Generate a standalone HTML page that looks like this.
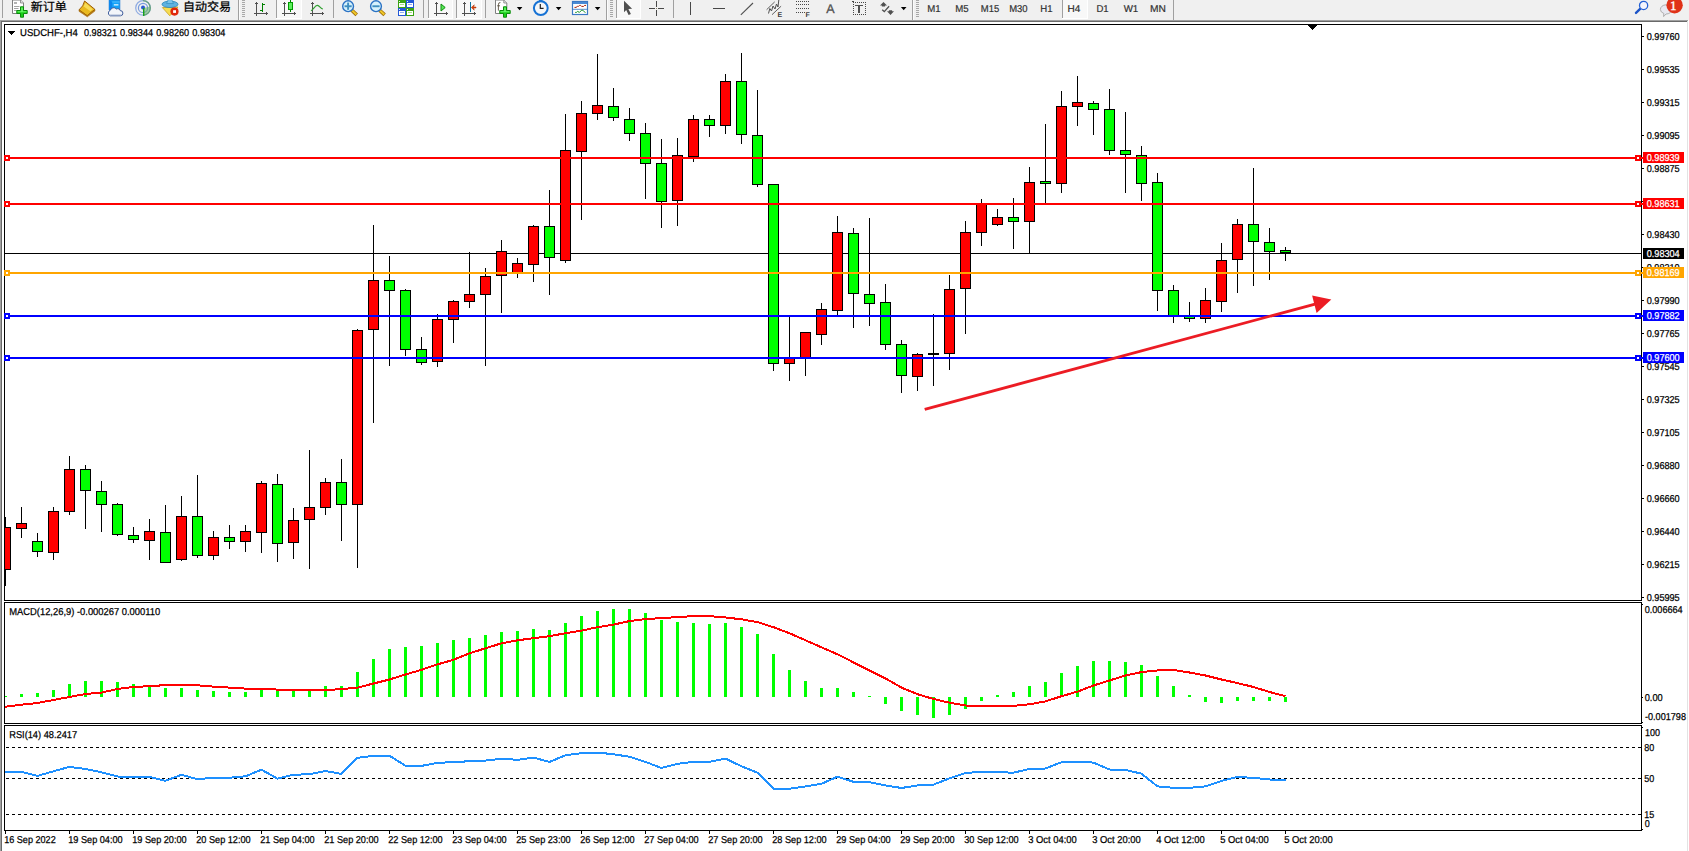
<!DOCTYPE html>
<html lang="zh"><head><meta charset="utf-8"><title>USDCHF-,H4</title>
<style>html,body{margin:0;padding:0;background:#fff;width:1689px;height:851px;overflow:hidden}</style></head>
<body>
<svg width="1689" height="851" viewBox="0 0 1689 851" font-family="'Liberation Sans',sans-serif" font-size="10.0" text-rendering="geometricPrecision" shape-rendering="crispEdges" style="position:absolute;left:0;top:0;display:block">
<rect x="0" y="0" width="1689" height="20" fill="#f0f0f0"/>
<rect x="0" y="20" width="1689" height="831" fill="#ffffff"/>
<rect x="0" y="20" width="1688" height="1" fill="#a0a0a0"/>
<rect x="0" y="20" width="1" height="831" fill="#a0a0a0"/>
<rect x="1" y="21" width="1686" height="1" fill="#696969"/>
<rect x="1" y="21" width="1" height="830" fill="#696969"/>
<rect x="1687" y="21" width="1" height="830" fill="#e3e3e3"/>
<rect x="1688" y="20" width="1" height="831" fill="#ffffff"/>
<g id="toolbar">
<rect x="2" y="0" width="1" height="18" fill="#a0a0a0"/>
<g shape-rendering="geometricPrecision">
<path d="M12.5,0 H20.5 L23.5,3 V13.5 H12.5 Z" fill="#fff" stroke="#808080" stroke-width="1"/>
<path d="M20.5,0 V3 H23.5" fill="#e0e0e0" stroke="#808080" stroke-width="0.8"/>
<rect x="14" y="2.4" width="3" height="1.2" fill="#808080"/>
<rect x="14" y="6" width="5.5" height="0.9" fill="#9a9a9a"/>
<rect x="14" y="8.1" width="4.5" height="0.9" fill="#9a9a9a"/>
<rect x="14" y="10.1" width="3" height="0.9" fill="#9a9a9a"/>
<path d="M20.5,6.8 h3 v3.7 h3.7 v3 h-3.7 v3.7 h-3 v-3.7 h-3.7 v-3 h3.7 Z" fill="#18d018" stroke="#0a8a0a" stroke-width="1"/>
<path d="M21.2,7.5 h1.6 v3.7 h3.7 v1 h-9 v-1 h3.7 Z" fill="#7dff7d" opacity="0.8"/>
</g>
<text x="30.7" y="11.3" font-size="12" font-family="'Liberation Sans','Noto Sans CJK SC',sans-serif" fill="#000" stroke="#000" stroke-width="0.25">新订单</text>
<g shape-rendering="geometricPrecision">
<path d="M84.6,1 Q83.6,6.2 79,9.9 L87.2,15.7 L94.9,9.4 Z" fill="#e9b91f" stroke="#9a5c04" stroke-width="1" stroke-linejoin="round"/>
<path d="M85.4,2.8 L92.8,9.2 L90.4,11.2 L83.4,6.2 Q84.8,4.6 85.4,2.8 Z" fill="#f9e060" opacity="0.85"/>
<path d="M94.9,9.4 L94.9,11 L87.3,16.8 L79,11.3 L79,9.9 L87.2,15.7 Z" fill="#c48a10" stroke="#9a5c04" stroke-width="0.6"/>
<path d="M109.2,0 H119.8 V10 H109.2 Z" fill="#14a2f8" stroke="#1878d8" stroke-width="0.8"/>
<path d="M109.2,0 L112.2,2 V10 H109.2 Z" fill="#0b86ee"/>
<path d="M112.2,2 H119.8" stroke="#7fd0ff" stroke-width="0.6"/>
<rect x="113.8" y="4.2" width="4.6" height="1.3" fill="#e0f4ff"/>
<path d="M110.2,15.8 a3,3 0 0 1 0.2,-5.6 a3.4,3.4 0 0 1 6,-1.2 a2.7,2.7 0 0 1 3.8,1.6 a2.6,2.6 0 0 1 0.2,5.2 Z" fill="#f2f5fa" stroke="#3f5c9c" stroke-width="1"/>
<path d="M109,14.4 H121.4 V15.3 H109 Z" fill="#b4c2da"/>
<circle cx="143" cy="7.9" r="7.3" fill="none" stroke="#6f94dc" stroke-width="1.2" opacity="0.75"/>
<circle cx="143" cy="7.9" r="4.6" fill="none" stroke="#5a86d8" stroke-width="1.2" opacity="0.8"/>
<path d="M143,7.9 L143,15.6 A7.7,7.7 0 0 0 150.6,6.6 Z" fill="#5fae5f" opacity="0.55"/>
<path d="M143,0.6 A7.3,7.3 0 0 1 143,15.2" fill="none" stroke="#5c9c6c" stroke-width="1.2" opacity="0.8"/>
<circle cx="143" cy="7.6" r="2" fill="#2a58d0"/>
<rect x="143" y="8" width="1.4" height="8" fill="#18a018"/>
<path d="M162.4,7.6 L178,7 L172,13.5 L169.8,15.8 Z" fill="#f6dc50" stroke="#c8a020" stroke-width="0.8"/>
<ellipse cx="170" cy="4.3" rx="8" ry="3.2" fill="#5fb2e0" stroke="#2a86b8" stroke-width="0.8"/>
<path d="M166.6,3.5 Q167.5,0 169.2,-1 H170.8 Q172.5,0 173.4,3.5 Z" fill="#7cc4ea" stroke="#2a86b8" stroke-width="0.6"/>
<circle cx="174.5" cy="11.6" r="4.1" fill="#e0280c"/>
<rect x="173.1" y="10.2" width="2.9" height="2.7" fill="#ffffff"/>
</g>
<text x="183" y="11.3" font-size="12" font-family="'Liberation Sans','Noto Sans CJK SC',sans-serif" fill="#000" stroke="#000" stroke-width="0.25">自动交易</text>
<rect x="238" y="0" width="1" height="20" fill="#a0a0a0"/>
<rect x="239" y="0" width="1" height="20" fill="#fbfbfb"/>
<rect x="242" y="0" width="3" height="1" fill="#a8a8a8"/>
<rect x="242" y="2" width="3" height="1" fill="#a8a8a8"/>
<rect x="242" y="4" width="3" height="1" fill="#a8a8a8"/>
<rect x="242" y="6" width="3" height="1" fill="#a8a8a8"/>
<rect x="242" y="8" width="3" height="1" fill="#a8a8a8"/>
<rect x="242" y="10" width="3" height="1" fill="#a8a8a8"/>
<rect x="242" y="12" width="3" height="1" fill="#a8a8a8"/>
<rect x="242" y="14" width="3" height="1" fill="#a8a8a8"/>
<rect x="242" y="16" width="3" height="1" fill="#a8a8a8"/>
<rect x="256" y="2" width="1" height="14" fill="#505050"/>
<rect x="255" y="3" width="3" height="1" fill="#505050"/>
<rect x="254" y="13" width="14" height="1" fill="#505050"/>
<rect x="266" y="12" width="1" height="3" fill="#505050"/>
<rect x="262" y="3" width="1" height="9" fill="#008000"/>
<rect x="263" y="4" width="2" height="1" fill="#008000"/>
<rect x="260" y="10" width="2" height="1" fill="#008000"/>
<rect x="276" y="0" width="1" height="18" fill="#a0a0a0"/>
<rect x="277" y="0" width="25" height="18" fill="#f8f8f8"/>
<rect x="301" y="0" width="1" height="18" fill="#ffffff"/>
<rect x="276" y="18" width="26" height="1" fill="#ffffff"/>
<rect x="284" y="2" width="1" height="14" fill="#505050"/>
<rect x="283" y="3" width="3" height="1" fill="#505050"/>
<rect x="282" y="13" width="14" height="1" fill="#505050"/>
<rect x="294" y="12" width="1" height="3" fill="#505050"/>
<rect x="290" y="0" width="1" height="12" fill="#008000"/>
<rect x="288" y="2" width="5" height="8" fill="#009a00"/>
<rect x="289" y="3" width="3" height="6" fill="#5cf05c"/>
<rect x="312" y="2" width="1" height="14" fill="#505050"/>
<rect x="311" y="3" width="3" height="1" fill="#505050"/>
<rect x="310" y="13" width="14" height="1" fill="#505050"/>
<rect x="322" y="12" width="1" height="3" fill="#505050"/>
<path d="M311,10.8 C313.5,9.5 315,5.2 317.4,5.4 C319.6,5.6 320.5,8.6 322.9,9" fill="none" stroke="#2fa02f" stroke-width="1.2" shape-rendering="geometricPrecision"/>
<rect x="333" y="0" width="1" height="18" fill="#a0a0a0"/>
<g shape-rendering="geometricPrecision">
<line x1="351.70000000000005" y1="10.2" x2="356.70000000000005" y2="14.9" stroke="#9a6a08" stroke-width="3.6"/>
<line x1="352.1" y1="10.6" x2="356.40000000000003" y2="14.6" stroke="#f0c828" stroke-width="2"/>
<circle cx="348.1" cy="6.2" r="5.4" fill="#d6f1fc" stroke="#2a72c4" stroke-width="1.4"/>
<rect x="344.5" y="5.3" width="7.2" height="1.9" fill="#3f8fc0"/>
<rect x="347.15000000000003" y="2.6" width="1.9" height="7.2" fill="#3f8fc0"/>
</g>
<g shape-rendering="geometricPrecision">
<line x1="379.6" y1="10.2" x2="384.6" y2="14.9" stroke="#9a6a08" stroke-width="3.6"/>
<line x1="380" y1="10.6" x2="384.3" y2="14.6" stroke="#f0c828" stroke-width="2"/>
<circle cx="376" cy="6.2" r="5.4" fill="#d6f1fc" stroke="#2a72c4" stroke-width="1.4"/>
<rect x="372.4" y="5.3" width="7.2" height="1.9" fill="#3f8fc0"/>
</g>
<rect x="398" y="0" width="8" height="8" fill="#3aa312"/>
<rect x="399" y="3" width="6" height="4" fill="#ffffff"/>
<rect x="400" y="4" width="4" height="1" fill="#a8dc88"/>
<rect x="399" y="1" width="1" height="1" fill="#e8f4e8"/>
<rect x="406" y="0" width="8" height="8" fill="#2258d6"/>
<rect x="407" y="3" width="6" height="4" fill="#ffffff"/>
<rect x="408" y="4" width="4" height="1" fill="#90acf0"/>
<rect x="407" y="1" width="1" height="1" fill="#e8f4e8"/>
<rect x="398" y="8" width="8" height="8" fill="#2258d6"/>
<rect x="399" y="11" width="6" height="4" fill="#ffffff"/>
<rect x="400" y="12" width="4" height="1" fill="#90acf0"/>
<rect x="399" y="9" width="1" height="1" fill="#e8f4e8"/>
<rect x="406" y="8" width="8" height="8" fill="#3aa312"/>
<rect x="407" y="11" width="6" height="4" fill="#ffffff"/>
<rect x="408" y="12" width="4" height="1" fill="#a8dc88"/>
<rect x="407" y="9" width="1" height="1" fill="#e8f4e8"/>
<rect x="423" y="0" width="1" height="18" fill="#a0a0a0"/>
<rect x="428" y="0" width="1" height="18" fill="#a0a0a0"/>
<rect x="429" y="0" width="24" height="18" fill="#f8f8f8"/>
<rect x="452" y="0" width="1" height="18" fill="#ffffff"/>
<rect x="428" y="18" width="25" height="1" fill="#ffffff"/>
<rect x="436" y="2" width="1" height="14" fill="#505050"/>
<rect x="435" y="3" width="3" height="1" fill="#505050"/>
<rect x="434" y="13" width="14" height="1" fill="#505050"/>
<rect x="446" y="12" width="1" height="3" fill="#505050"/>
<polygon points="441,4 445.2,7.5 441,11" fill="#58e858" stroke="#0a8a0a" stroke-width="1" shape-rendering="geometricPrecision"/>
<rect x="456" y="0" width="1" height="18" fill="#a0a0a0"/>
<rect x="457" y="0" width="25" height="18" fill="#f8f8f8"/>
<rect x="481" y="0" width="1" height="18" fill="#ffffff"/>
<rect x="456" y="18" width="26" height="1" fill="#ffffff"/>
<rect x="464" y="2" width="1" height="14" fill="#505050"/>
<rect x="463" y="3" width="3" height="1" fill="#505050"/>
<rect x="462" y="13" width="14" height="1" fill="#505050"/>
<rect x="474" y="12" width="1" height="3" fill="#505050"/>
<rect x="470" y="2" width="1" height="10" fill="#10709c"/>
<g shape-rendering="geometricPrecision"><polygon points="471.3,7.5 474.3,4.8 473.6,7 476,7 476,8 473.6,8 474.3,10.2" fill="#d84008" stroke="#b03000" stroke-width="0.5"/></g>
<rect x="485" y="0" width="1" height="18" fill="#a0a0a0"/>
<g shape-rendering="geometricPrecision">
<path d="M495.5,0 H503.8 L506.8,3 V13.5 H495.5 Z" fill="#fff" stroke="#808080" stroke-width="1"/>
<path d="M503.8,0 V3 H506.8" fill="#e0e0e0" stroke="#808080" stroke-width="0.8"/>
<path d="M500.4,2.6 Q498.3,2.2 498.4,4.8 V10.6 M497.2,5.8 H500" fill="none" stroke="#5a5040" stroke-width="0.9"/>
<path d="M503.5,6.8 h3 v3.7 h3.7 v3 h-3.7 v3.7 h-3 v-3.7 h-3.7 v-3 h3.7 Z" fill="#18d018" stroke="#0a8a0a" stroke-width="1"/>
<path d="M504.2,7.5 h1.6 v3.7 h3.7 v1 h-9 v-1 h3.7 Z" fill="#7dff7d" opacity="0.8"/>
</g>
<polygon points="516.8,7 522.4,7 519.5999999999999,10.2" fill="#000" shape-rendering="geometricPrecision"/>
<g shape-rendering="geometricPrecision">
<rect x="539" y="-1" width="3.6" height="2" fill="#1a74d0"/>
<circle cx="540.8" cy="8.1" r="6.9" fill="#f4f6f8" stroke="#1672d4" stroke-width="2"/>
<path d="M540.3,4 V8.3 H543.6" fill="none" stroke="#202020" stroke-width="1.2"/>
</g>
<polygon points="555.8,7 561.4,7 558.5999999999999,10.2" fill="#000" shape-rendering="geometricPrecision"/>
<g shape-rendering="geometricPrecision">
<rect x="572.5" y="1.5" width="15" height="13" fill="#ffffff" stroke="#3a78c4" stroke-width="1.2"/>
<rect x="573" y="2" width="14" height="2" fill="#4a8ad4"/>
<rect x="573" y="8.8" width="14" height="1" fill="#5a90d0"/>
<path d="M574.5,7.4 H576 L577.6,6.3 H578.6 L579.6,5.4 H580.6 L581.6,6.4 H583.6 L584.6,5.4 H586" fill="none" stroke="#a82008" stroke-width="1"/>
<path d="M575.2,12.4 H576.4 L577.6,11.4 L579.4,12.4 L581.6,10.2 H582.8 L585.4,12.8" fill="none" stroke="#109020" stroke-width="1"/>
</g>
<polygon points="594.8,7 600.4,7 597.5999999999999,10.2" fill="#000" shape-rendering="geometricPrecision"/>
<rect x="606" y="0" width="1" height="20" fill="#a0a0a0"/>
<rect x="607" y="0" width="1" height="20" fill="#fbfbfb"/>
<rect x="610" y="0" width="3" height="1" fill="#a8a8a8"/>
<rect x="610" y="2" width="3" height="1" fill="#a8a8a8"/>
<rect x="610" y="4" width="3" height="1" fill="#a8a8a8"/>
<rect x="610" y="6" width="3" height="1" fill="#a8a8a8"/>
<rect x="610" y="8" width="3" height="1" fill="#a8a8a8"/>
<rect x="610" y="10" width="3" height="1" fill="#a8a8a8"/>
<rect x="610" y="12" width="3" height="1" fill="#a8a8a8"/>
<rect x="610" y="14" width="3" height="1" fill="#a8a8a8"/>
<rect x="610" y="16" width="3" height="1" fill="#a8a8a8"/>
<rect x="616" y="0" width="1" height="18" fill="#a0a0a0"/>
<rect x="617" y="0" width="24" height="18" fill="#f8f8f8"/>
<rect x="640" y="0" width="1" height="18" fill="#ffffff"/>
<rect x="616" y="18" width="25" height="1" fill="#ffffff"/>
<polygon points="624,0.8 624,12.2 626.2,9.9 628.6,14.9 630.9,14 628.4,8.9 632.1,8.7" fill="#505050" shape-rendering="geometricPrecision"/>
<rect x="649" y="8" width="6" height="1" fill="#484848"/>
<rect x="658" y="8" width="6" height="1" fill="#484848"/>
<rect x="656" y="1" width="1" height="6" fill="#484848"/>
<rect x="656" y="10" width="1" height="6" fill="#484848"/>
<rect x="656" y="8" width="1" height="1" fill="#8a8060"/>
<rect x="673" y="0" width="1" height="18" fill="#a0a0a0"/>
<rect x="690" y="2" width="1" height="13" fill="#484848"/>
<rect x="713" y="8" width="12" height="1" fill="#484848"/>
<g shape-rendering="geometricPrecision" stroke="#505050" fill="none">
<line x1="740.8" y1="14.8" x2="753" y2="3" stroke-width="1.1"/>
<line x1="766.6" y1="9.7" x2="774.7" y2="1.9" stroke-width="0.9"/>
<line x1="772" y1="14.7" x2="781.1" y2="6.2" stroke-width="0.9"/>
<path d="M768.5,13.5 L769.8,8.5 L771.5,11 L773,6 L775,9 L776.5,4 L778,7 L778.8,0" stroke-width="1"/>
</g>
<text x="777.6" y="16.9" font-size="7" font-weight="bold" fill="#404040">E</text>
<rect x="796" y="1" width="1" height="1" fill="#484848"/>
<rect x="798" y="1" width="1" height="1" fill="#484848"/>
<rect x="800" y="1" width="1" height="1" fill="#484848"/>
<rect x="802" y="1" width="1" height="1" fill="#484848"/>
<rect x="804" y="1" width="1" height="1" fill="#484848"/>
<rect x="806" y="1" width="1" height="1" fill="#484848"/>
<rect x="808" y="1" width="1" height="1" fill="#484848"/>
<rect x="796" y="4" width="1" height="1" fill="#484848"/>
<rect x="798" y="4" width="1" height="1" fill="#484848"/>
<rect x="800" y="4" width="1" height="1" fill="#484848"/>
<rect x="802" y="4" width="1" height="1" fill="#484848"/>
<rect x="804" y="4" width="1" height="1" fill="#484848"/>
<rect x="806" y="4" width="1" height="1" fill="#484848"/>
<rect x="808" y="4" width="1" height="1" fill="#484848"/>
<rect x="796" y="8" width="1" height="1" fill="#484848"/>
<rect x="798" y="8" width="1" height="1" fill="#484848"/>
<rect x="800" y="8" width="1" height="1" fill="#484848"/>
<rect x="802" y="8" width="1" height="1" fill="#484848"/>
<rect x="804" y="8" width="1" height="1" fill="#484848"/>
<rect x="806" y="8" width="1" height="1" fill="#484848"/>
<rect x="808" y="8" width="1" height="1" fill="#484848"/>
<rect x="796" y="12" width="1" height="1" fill="#484848"/>
<rect x="798" y="12" width="1" height="1" fill="#484848"/>
<rect x="800" y="12" width="1" height="1" fill="#484848"/>
<rect x="802" y="12" width="1" height="1" fill="#484848"/>
<rect x="804" y="12" width="1" height="1" fill="#484848"/>
<text x="805.6" y="16.9" font-size="7" font-weight="bold" fill="#404040">F</text>
<text x="826.3" y="12.8" font-size="12.5" fill="#505050" stroke="#505050" stroke-width="0.3">A</text>
<rect x="853" y="2" width="1" height="1" fill="#484848"/>
<rect x="853" y="14" width="1" height="1" fill="#484848"/>
<rect x="855" y="2" width="1" height="1" fill="#484848"/>
<rect x="855" y="14" width="1" height="1" fill="#484848"/>
<rect x="857" y="2" width="1" height="1" fill="#484848"/>
<rect x="857" y="14" width="1" height="1" fill="#484848"/>
<rect x="859" y="2" width="1" height="1" fill="#484848"/>
<rect x="859" y="14" width="1" height="1" fill="#484848"/>
<rect x="861" y="2" width="1" height="1" fill="#484848"/>
<rect x="861" y="14" width="1" height="1" fill="#484848"/>
<rect x="863" y="2" width="1" height="1" fill="#484848"/>
<rect x="863" y="14" width="1" height="1" fill="#484848"/>
<rect x="865" y="2" width="1" height="1" fill="#484848"/>
<rect x="865" y="14" width="1" height="1" fill="#484848"/>
<rect x="853" y="4" width="1" height="1" fill="#484848"/>
<rect x="865" y="4" width="1" height="1" fill="#484848"/>
<rect x="853" y="6" width="1" height="1" fill="#484848"/>
<rect x="865" y="6" width="1" height="1" fill="#484848"/>
<rect x="853" y="8" width="1" height="1" fill="#484848"/>
<rect x="865" y="8" width="1" height="1" fill="#484848"/>
<rect x="853" y="10" width="1" height="1" fill="#484848"/>
<rect x="865" y="10" width="1" height="1" fill="#484848"/>
<rect x="853" y="12" width="1" height="1" fill="#484848"/>
<rect x="865" y="12" width="1" height="1" fill="#484848"/>
<rect x="852" y="1" width="2" height="1" fill="#484848"/>
<rect x="855" y="5" width="8" height="1.3" fill="#505050"/>
<rect x="858.2" y="5" width="1.8" height="8" fill="#505050"/>
<g shape-rendering="geometricPrecision">
<polygon points="883.5,1.9 887,5.4 885.1,5.4 885.1,6.6 881.9,6.6 881.9,5.4 880,5.4" fill="#505050"/>
<polygon points="890.5,14.9 894,11.2 892.1,11.2 892.1,10.3 888.9,10.3 888.9,11.2 887,11.2" fill="#505050"/>
<path d="M882.2,9.7 L884.3,11.6 L889.1,6.2" fill="none" stroke="#505050" stroke-width="1.3"/>
</g>
<polygon points="900.9,7 906.5,7 903.6999999999999,10.2" fill="#000" shape-rendering="geometricPrecision"/>
<rect x="912" y="0" width="1" height="20" fill="#a0a0a0"/>
<rect x="913" y="0" width="1" height="20" fill="#fbfbfb"/>
<rect x="916" y="0" width="3" height="1" fill="#a8a8a8"/>
<rect x="916" y="2" width="3" height="1" fill="#a8a8a8"/>
<rect x="916" y="4" width="3" height="1" fill="#a8a8a8"/>
<rect x="916" y="6" width="3" height="1" fill="#a8a8a8"/>
<rect x="916" y="8" width="3" height="1" fill="#a8a8a8"/>
<rect x="916" y="10" width="3" height="1" fill="#a8a8a8"/>
<rect x="916" y="12" width="3" height="1" fill="#a8a8a8"/>
<rect x="916" y="14" width="3" height="1" fill="#a8a8a8"/>
<rect x="916" y="16" width="3" height="1" fill="#a8a8a8"/>
<rect x="1062" y="0" width="1" height="18" fill="#a0a0a0"/>
<rect x="1063" y="0" width="24" height="18" fill="#f8f8f8"/>
<rect x="1087" y="0" width="1" height="18" fill="#ffffff"/>
<rect x="1062" y="18" width="26" height="1" fill="#ffffff"/>
<text x="927.3" y="12" font-size="10" fill="#303030" stroke="#303030" stroke-width="0.2" textLength="13.4" lengthAdjust="spacingAndGlyphs">M1</text>
<text x="955.3" y="12" font-size="10" fill="#303030" stroke="#303030" stroke-width="0.2" textLength="13.4" lengthAdjust="spacingAndGlyphs">M5</text>
<text x="980.8" y="12" font-size="10" fill="#303030" stroke="#303030" stroke-width="0.2" textLength="18.4" lengthAdjust="spacingAndGlyphs">M15</text>
<text x="1009.2" y="12" font-size="10" fill="#303030" stroke="#303030" stroke-width="0.2" textLength="18.4" lengthAdjust="spacingAndGlyphs">M30</text>
<text x="1040.3" y="12" font-size="10" fill="#303030" stroke="#303030" stroke-width="0.2" textLength="12.3" lengthAdjust="spacingAndGlyphs">H1</text>
<text x="1067.6" y="12" font-size="10" fill="#303030" stroke="#303030" stroke-width="0.2" textLength="12.8" lengthAdjust="spacingAndGlyphs">H4</text>
<text x="1096.4" y="12" font-size="10" fill="#303030" stroke="#303030" stroke-width="0.2" textLength="12.2" lengthAdjust="spacingAndGlyphs">D1</text>
<text x="1123.7" y="12" font-size="10" fill="#303030" stroke="#303030" stroke-width="0.2" textLength="14.6" lengthAdjust="spacingAndGlyphs">W1</text>
<text x="1150.0" y="12" font-size="10" fill="#303030" stroke="#303030" stroke-width="0.2" textLength="15.9" lengthAdjust="spacingAndGlyphs">MN</text>
<rect x="1173" y="0" width="1" height="20" fill="#a0a0a0"/>
<g shape-rendering="geometricPrecision">
<line x1="1640.4" y1="8.7" x2="1636" y2="12.9" stroke="#1c54c8" stroke-width="2.4" stroke-linecap="round"/>
<circle cx="1643.6" cy="5.45" r="4.1" fill="#f4f4fc" stroke="#2460d4" stroke-width="1.3"/>
<path d="M1660.4,9.6 a5.8,4.6 0 1 1 5.6,4.4 L1663.6,16.6 L1663.8,13.4 A5,4.4 0 0 1 1660.4,9.6 Z" fill="#e8e8f0" stroke="#a8a8a8" stroke-width="0.9"/>
<circle cx="1674.6" cy="5.2" r="8.2" fill="#e03218"/>
</g>
<text x="1670.1" y="10.2" font-size="13" fill="#fff" stroke="#fff" stroke-width="0.4" font-family="'Liberation Serif',serif">1</text>
</g>
<defs><clipPath id="cm"><rect x="5" y="25" width="1636" height="575"/></clipPath><clipPath id="cd"><rect x="5" y="603" width="1636" height="120"/></clipPath><clipPath id="cr"><rect x="5" y="726" width="1636" height="104"/></clipPath></defs>
<g clip-path="url(#cm)">
<rect x="5" y="253" width="1636" height="1" fill="#000"/>
<rect x="5" y="517" width="1" height="69" fill="#000"/>
<rect x="0" y="527" width="11" height="43" fill="#000"/>
<rect x="1" y="528" width="9" height="41" fill="#ff0000"/>
<rect x="21" y="507" width="1" height="31" fill="#000"/>
<rect x="16" y="523" width="11" height="6" fill="#000"/>
<rect x="17" y="524" width="9" height="4" fill="#ff0000"/>
<rect x="37" y="533" width="1" height="24" fill="#000"/>
<rect x="32" y="541" width="11" height="11" fill="#000"/>
<rect x="33" y="542" width="9" height="9" fill="#00ff00"/>
<rect x="53" y="507" width="1" height="53" fill="#000"/>
<rect x="48" y="511" width="11" height="42" fill="#000"/>
<rect x="49" y="512" width="9" height="40" fill="#ff0000"/>
<rect x="69" y="456" width="1" height="59" fill="#000"/>
<rect x="64" y="469" width="11" height="43" fill="#000"/>
<rect x="65" y="470" width="9" height="41" fill="#ff0000"/>
<rect x="85" y="465" width="1" height="64" fill="#000"/>
<rect x="80" y="469" width="11" height="22" fill="#000"/>
<rect x="81" y="470" width="9" height="20" fill="#00ff00"/>
<rect x="101" y="481" width="1" height="51" fill="#000"/>
<rect x="96" y="491" width="11" height="14" fill="#000"/>
<rect x="97" y="492" width="9" height="12" fill="#00ff00"/>
<rect x="117" y="503" width="1" height="33" fill="#000"/>
<rect x="112" y="504" width="11" height="31" fill="#000"/>
<rect x="113" y="505" width="9" height="29" fill="#00ff00"/>
<rect x="133" y="527" width="1" height="16" fill="#000"/>
<rect x="128" y="535" width="11" height="5" fill="#000"/>
<rect x="129" y="536" width="9" height="3" fill="#00ff00"/>
<rect x="149" y="519" width="1" height="41" fill="#000"/>
<rect x="144" y="531" width="11" height="10" fill="#000"/>
<rect x="145" y="532" width="9" height="8" fill="#ff0000"/>
<rect x="165" y="505" width="1" height="58" fill="#000"/>
<rect x="160" y="532" width="11" height="31" fill="#000"/>
<rect x="161" y="533" width="9" height="29" fill="#00ff00"/>
<rect x="181" y="496" width="1" height="65" fill="#000"/>
<rect x="176" y="516" width="11" height="44" fill="#000"/>
<rect x="177" y="517" width="9" height="42" fill="#ff0000"/>
<rect x="197" y="475" width="1" height="83" fill="#000"/>
<rect x="192" y="516" width="11" height="40" fill="#000"/>
<rect x="193" y="517" width="9" height="38" fill="#00ff00"/>
<rect x="213" y="531" width="1" height="29" fill="#000"/>
<rect x="208" y="537" width="11" height="19" fill="#000"/>
<rect x="209" y="538" width="9" height="17" fill="#ff0000"/>
<rect x="229" y="525" width="1" height="24" fill="#000"/>
<rect x="224" y="537" width="11" height="5" fill="#000"/>
<rect x="225" y="538" width="9" height="3" fill="#00ff00"/>
<rect x="245" y="525" width="1" height="27" fill="#000"/>
<rect x="240" y="531" width="11" height="11" fill="#000"/>
<rect x="241" y="532" width="9" height="9" fill="#ff0000"/>
<rect x="261" y="481" width="1" height="72" fill="#000"/>
<rect x="256" y="483" width="11" height="50" fill="#000"/>
<rect x="257" y="484" width="9" height="48" fill="#ff0000"/>
<rect x="277" y="474" width="1" height="88" fill="#000"/>
<rect x="272" y="484" width="11" height="60" fill="#000"/>
<rect x="273" y="485" width="9" height="58" fill="#00ff00"/>
<rect x="293" y="508" width="1" height="51" fill="#000"/>
<rect x="288" y="520" width="11" height="23" fill="#000"/>
<rect x="289" y="521" width="9" height="21" fill="#ff0000"/>
<rect x="309" y="450" width="1" height="119" fill="#000"/>
<rect x="304" y="507" width="11" height="13" fill="#000"/>
<rect x="305" y="508" width="9" height="11" fill="#ff0000"/>
<rect x="325" y="478" width="1" height="37" fill="#000"/>
<rect x="320" y="482" width="11" height="26" fill="#000"/>
<rect x="321" y="483" width="9" height="24" fill="#ff0000"/>
<rect x="341" y="459" width="1" height="82" fill="#000"/>
<rect x="336" y="482" width="11" height="23" fill="#000"/>
<rect x="337" y="483" width="9" height="21" fill="#00ff00"/>
<rect x="357" y="329" width="1" height="239" fill="#000"/>
<rect x="352" y="330" width="11" height="175" fill="#000"/>
<rect x="353" y="331" width="9" height="173" fill="#ff0000"/>
<rect x="373" y="225" width="1" height="198" fill="#000"/>
<rect x="368" y="280" width="11" height="50" fill="#000"/>
<rect x="369" y="281" width="9" height="48" fill="#ff0000"/>
<rect x="389" y="256" width="1" height="110" fill="#000"/>
<rect x="384" y="280" width="11" height="11" fill="#000"/>
<rect x="385" y="281" width="9" height="9" fill="#00ff00"/>
<rect x="405" y="289" width="1" height="67" fill="#000"/>
<rect x="400" y="290" width="11" height="60" fill="#000"/>
<rect x="401" y="291" width="9" height="58" fill="#00ff00"/>
<rect x="421" y="337" width="1" height="28" fill="#000"/>
<rect x="416" y="349" width="11" height="14" fill="#000"/>
<rect x="417" y="350" width="9" height="12" fill="#00ff00"/>
<rect x="437" y="314" width="1" height="53" fill="#000"/>
<rect x="432" y="319" width="11" height="43" fill="#000"/>
<rect x="433" y="320" width="9" height="41" fill="#ff0000"/>
<rect x="453" y="300" width="1" height="43" fill="#000"/>
<rect x="448" y="301" width="11" height="19" fill="#000"/>
<rect x="449" y="302" width="9" height="17" fill="#ff0000"/>
<rect x="469" y="252" width="1" height="56" fill="#000"/>
<rect x="464" y="294" width="11" height="8" fill="#000"/>
<rect x="465" y="295" width="9" height="6" fill="#ff0000"/>
<rect x="485" y="268" width="1" height="98" fill="#000"/>
<rect x="480" y="276" width="11" height="19" fill="#000"/>
<rect x="481" y="277" width="9" height="17" fill="#ff0000"/>
<rect x="501" y="240" width="1" height="73" fill="#000"/>
<rect x="496" y="251" width="11" height="25" fill="#000"/>
<rect x="497" y="252" width="9" height="23" fill="#ff0000"/>
<rect x="517" y="258" width="1" height="20" fill="#000"/>
<rect x="512" y="263" width="11" height="10" fill="#000"/>
<rect x="513" y="264" width="9" height="8" fill="#ff0000"/>
<rect x="533" y="225" width="1" height="57" fill="#000"/>
<rect x="528" y="226" width="11" height="39" fill="#000"/>
<rect x="529" y="227" width="9" height="37" fill="#ff0000"/>
<rect x="549" y="190" width="1" height="105" fill="#000"/>
<rect x="544" y="226" width="11" height="32" fill="#000"/>
<rect x="545" y="227" width="9" height="30" fill="#00ff00"/>
<rect x="565" y="114" width="1" height="149" fill="#000"/>
<rect x="560" y="150" width="11" height="111" fill="#000"/>
<rect x="561" y="151" width="9" height="109" fill="#ff0000"/>
<rect x="581" y="101" width="1" height="119" fill="#000"/>
<rect x="576" y="113" width="11" height="39" fill="#000"/>
<rect x="577" y="114" width="9" height="37" fill="#ff0000"/>
<rect x="597" y="54" width="1" height="66" fill="#000"/>
<rect x="592" y="105" width="11" height="9" fill="#000"/>
<rect x="593" y="106" width="9" height="7" fill="#ff0000"/>
<rect x="613" y="88" width="1" height="33" fill="#000"/>
<rect x="608" y="106" width="11" height="12" fill="#000"/>
<rect x="609" y="107" width="9" height="10" fill="#00ff00"/>
<rect x="629" y="108" width="1" height="33" fill="#000"/>
<rect x="624" y="119" width="11" height="15" fill="#000"/>
<rect x="625" y="120" width="9" height="13" fill="#00ff00"/>
<rect x="645" y="123" width="1" height="76" fill="#000"/>
<rect x="640" y="133" width="11" height="31" fill="#000"/>
<rect x="641" y="134" width="9" height="29" fill="#00ff00"/>
<rect x="661" y="139" width="1" height="89" fill="#000"/>
<rect x="656" y="163" width="11" height="39" fill="#000"/>
<rect x="657" y="164" width="9" height="37" fill="#00ff00"/>
<rect x="677" y="138" width="1" height="88" fill="#000"/>
<rect x="672" y="155" width="11" height="46" fill="#000"/>
<rect x="673" y="156" width="9" height="44" fill="#ff0000"/>
<rect x="693" y="115" width="1" height="47" fill="#000"/>
<rect x="688" y="119" width="11" height="38" fill="#000"/>
<rect x="689" y="120" width="9" height="36" fill="#ff0000"/>
<rect x="709" y="115" width="1" height="22" fill="#000"/>
<rect x="704" y="119" width="11" height="7" fill="#000"/>
<rect x="705" y="120" width="9" height="5" fill="#00ff00"/>
<rect x="725" y="74" width="1" height="60" fill="#000"/>
<rect x="720" y="81" width="11" height="45" fill="#000"/>
<rect x="721" y="82" width="9" height="43" fill="#ff0000"/>
<rect x="741" y="53" width="1" height="91" fill="#000"/>
<rect x="736" y="81" width="11" height="54" fill="#000"/>
<rect x="737" y="82" width="9" height="52" fill="#00ff00"/>
<rect x="757" y="90" width="1" height="97" fill="#000"/>
<rect x="752" y="135" width="11" height="50" fill="#000"/>
<rect x="753" y="136" width="9" height="48" fill="#00ff00"/>
<rect x="773" y="184" width="1" height="187" fill="#000"/>
<rect x="768" y="184" width="11" height="180" fill="#000"/>
<rect x="769" y="185" width="9" height="178" fill="#00ff00"/>
<rect x="789" y="316" width="1" height="65" fill="#000"/>
<rect x="784" y="357" width="11" height="7" fill="#000"/>
<rect x="785" y="358" width="9" height="5" fill="#ff0000"/>
<rect x="805" y="332" width="1" height="44" fill="#000"/>
<rect x="800" y="332" width="11" height="27" fill="#000"/>
<rect x="801" y="333" width="9" height="25" fill="#ff0000"/>
<rect x="821" y="303" width="1" height="42" fill="#000"/>
<rect x="816" y="309" width="11" height="26" fill="#000"/>
<rect x="817" y="310" width="9" height="24" fill="#ff0000"/>
<rect x="837" y="216" width="1" height="99" fill="#000"/>
<rect x="832" y="232" width="11" height="79" fill="#000"/>
<rect x="833" y="233" width="9" height="77" fill="#ff0000"/>
<rect x="853" y="228" width="1" height="100" fill="#000"/>
<rect x="848" y="233" width="11" height="61" fill="#000"/>
<rect x="849" y="234" width="9" height="59" fill="#00ff00"/>
<rect x="869" y="218" width="1" height="108" fill="#000"/>
<rect x="864" y="294" width="11" height="10" fill="#000"/>
<rect x="865" y="295" width="9" height="8" fill="#00ff00"/>
<rect x="885" y="284" width="1" height="66" fill="#000"/>
<rect x="880" y="302" width="11" height="43" fill="#000"/>
<rect x="881" y="303" width="9" height="41" fill="#00ff00"/>
<rect x="901" y="340" width="1" height="53" fill="#000"/>
<rect x="896" y="344" width="11" height="32" fill="#000"/>
<rect x="897" y="345" width="9" height="30" fill="#00ff00"/>
<rect x="917" y="353" width="1" height="38" fill="#000"/>
<rect x="912" y="354" width="11" height="23" fill="#000"/>
<rect x="913" y="355" width="9" height="21" fill="#ff0000"/>
<rect x="933" y="314" width="1" height="72" fill="#000"/>
<rect x="928" y="353" width="11" height="2" fill="#000"/>
<rect x="949" y="275" width="1" height="95" fill="#000"/>
<rect x="944" y="289" width="11" height="65" fill="#000"/>
<rect x="945" y="290" width="9" height="63" fill="#ff0000"/>
<rect x="965" y="221" width="1" height="113" fill="#000"/>
<rect x="960" y="232" width="11" height="57" fill="#000"/>
<rect x="961" y="233" width="9" height="55" fill="#ff0000"/>
<rect x="981" y="199" width="1" height="47" fill="#000"/>
<rect x="976" y="204" width="11" height="29" fill="#000"/>
<rect x="977" y="205" width="9" height="27" fill="#ff0000"/>
<rect x="997" y="209" width="1" height="17" fill="#000"/>
<rect x="992" y="217" width="11" height="8" fill="#000"/>
<rect x="993" y="218" width="9" height="6" fill="#ff0000"/>
<rect x="1013" y="198" width="1" height="51" fill="#000"/>
<rect x="1008" y="217" width="11" height="5" fill="#000"/>
<rect x="1009" y="218" width="9" height="3" fill="#00ff00"/>
<rect x="1029" y="167" width="1" height="86" fill="#000"/>
<rect x="1024" y="182" width="11" height="40" fill="#000"/>
<rect x="1025" y="183" width="9" height="38" fill="#ff0000"/>
<rect x="1045" y="124" width="1" height="79" fill="#000"/>
<rect x="1040" y="181" width="11" height="3" fill="#000"/>
<rect x="1041" y="182" width="9" height="1" fill="#00ff00"/>
<rect x="1061" y="91" width="1" height="102" fill="#000"/>
<rect x="1056" y="106" width="11" height="78" fill="#000"/>
<rect x="1057" y="107" width="9" height="76" fill="#ff0000"/>
<rect x="1077" y="76" width="1" height="50" fill="#000"/>
<rect x="1072" y="102" width="11" height="5" fill="#000"/>
<rect x="1073" y="103" width="9" height="3" fill="#ff0000"/>
<rect x="1093" y="101" width="1" height="34" fill="#000"/>
<rect x="1088" y="103" width="11" height="7" fill="#000"/>
<rect x="1089" y="104" width="9" height="5" fill="#00ff00"/>
<rect x="1109" y="89" width="1" height="66" fill="#000"/>
<rect x="1104" y="109" width="11" height="42" fill="#000"/>
<rect x="1105" y="110" width="9" height="40" fill="#00ff00"/>
<rect x="1125" y="112" width="1" height="81" fill="#000"/>
<rect x="1120" y="150" width="11" height="5" fill="#000"/>
<rect x="1121" y="151" width="9" height="3" fill="#00ff00"/>
<rect x="1141" y="146" width="1" height="55" fill="#000"/>
<rect x="1136" y="155" width="11" height="29" fill="#000"/>
<rect x="1137" y="156" width="9" height="27" fill="#00ff00"/>
<rect x="1157" y="173" width="1" height="138" fill="#000"/>
<rect x="1152" y="182" width="11" height="109" fill="#000"/>
<rect x="1153" y="183" width="9" height="107" fill="#00ff00"/>
<rect x="1173" y="285" width="1" height="38" fill="#000"/>
<rect x="1168" y="290" width="11" height="27" fill="#000"/>
<rect x="1169" y="291" width="9" height="25" fill="#00ff00"/>
<rect x="1189" y="302" width="1" height="20" fill="#000"/>
<rect x="1184" y="316" width="11" height="3" fill="#000"/>
<rect x="1185" y="317" width="9" height="1" fill="#00ff00"/>
<rect x="1205" y="288" width="1" height="35" fill="#000"/>
<rect x="1200" y="300" width="11" height="19" fill="#000"/>
<rect x="1201" y="301" width="9" height="17" fill="#ff0000"/>
<rect x="1221" y="243" width="1" height="69" fill="#000"/>
<rect x="1216" y="260" width="11" height="42" fill="#000"/>
<rect x="1217" y="261" width="9" height="40" fill="#ff0000"/>
<rect x="1237" y="219" width="1" height="74" fill="#000"/>
<rect x="1232" y="224" width="11" height="36" fill="#000"/>
<rect x="1233" y="225" width="9" height="34" fill="#ff0000"/>
<rect x="1253" y="168" width="1" height="118" fill="#000"/>
<rect x="1248" y="224" width="11" height="18" fill="#000"/>
<rect x="1249" y="225" width="9" height="16" fill="#00ff00"/>
<rect x="1269" y="228" width="1" height="52" fill="#000"/>
<rect x="1264" y="242" width="11" height="10" fill="#000"/>
<rect x="1265" y="243" width="9" height="8" fill="#00ff00"/>
<rect x="1285" y="247" width="1" height="14" fill="#000"/>
<rect x="1280" y="250" width="11" height="3" fill="#000"/>
<rect x="1281" y="251" width="9" height="1" fill="#00ff00"/>
</g>
<rect x="5" y="157" width="1638" height="2" fill="#ff0000"/>
<rect x="5" y="203" width="1638" height="2" fill="#ff0000"/>
<rect x="5" y="272" width="1638" height="2" fill="#ffa500"/>
<rect x="5" y="315" width="1638" height="2" fill="#0000ff"/>
<rect x="5" y="357" width="1638" height="2" fill="#0000ff"/>
<g shape-rendering="geometricPrecision"><line x1="924.7" y1="409.4" x2="1316" y2="303.8" stroke="#ec1c24" stroke-width="2.8"/><polygon points="1312.1,295.5 1331.3,299.4 1316.6,312.9" fill="#ec1c24"/></g>
<rect x="4" y="24" width="1638" height="1" fill="#000"/>
<rect x="4" y="600" width="1638" height="1" fill="#000"/>
<rect x="4" y="24" width="1" height="577" fill="#000"/>
<rect x="1641" y="24" width="1" height="577" fill="#000"/>
<rect x="4" y="155" width="6" height="6" fill="#ff0000"/>
<rect x="6" y="157" width="2" height="2" fill="#fff"/>
<rect x="1635" y="155" width="6" height="6" fill="#ff0000"/>
<rect x="1637" y="157" width="2" height="2" fill="#fff"/>
<rect x="1641" y="157" width="2" height="2" fill="#ff0000"/>
<rect x="4" y="201" width="6" height="6" fill="#ff0000"/>
<rect x="6" y="203" width="2" height="2" fill="#fff"/>
<rect x="1635" y="201" width="6" height="6" fill="#ff0000"/>
<rect x="1637" y="203" width="2" height="2" fill="#fff"/>
<rect x="1641" y="203" width="2" height="2" fill="#ff0000"/>
<rect x="4" y="270" width="6" height="6" fill="#ffa500"/>
<rect x="6" y="272" width="2" height="2" fill="#fff"/>
<rect x="1635" y="270" width="6" height="6" fill="#ffa500"/>
<rect x="1637" y="272" width="2" height="2" fill="#fff"/>
<rect x="1641" y="272" width="2" height="2" fill="#ffa500"/>
<rect x="4" y="313" width="6" height="6" fill="#0000ff"/>
<rect x="6" y="315" width="2" height="2" fill="#fff"/>
<rect x="1635" y="313" width="6" height="6" fill="#0000ff"/>
<rect x="1637" y="315" width="2" height="2" fill="#fff"/>
<rect x="1641" y="315" width="2" height="2" fill="#0000ff"/>
<rect x="4" y="355" width="6" height="6" fill="#0000ff"/>
<rect x="6" y="357" width="2" height="2" fill="#fff"/>
<rect x="1635" y="355" width="6" height="6" fill="#0000ff"/>
<rect x="1637" y="357" width="2" height="2" fill="#fff"/>
<rect x="1641" y="357" width="2" height="2" fill="#0000ff"/>
<polygon points="1307.5,25 1317.5,25 1312.5,30" fill="#000" shape-rendering="crispEdges"/>
<polygon points="8,31 15,31 11.5,35" fill="#000"/>
<text x="20.0" y="36" font-size="10.0" fill="#000" stroke="#000" stroke-width="0.25" textLength="57.8" lengthAdjust="spacingAndGlyphs">USDCHF-,H4</text>
<text x="84.0" y="36" font-size="10.0" fill="#000" stroke="#000" stroke-width="0.25" textLength="33" lengthAdjust="spacingAndGlyphs">0.98321</text>
<text x="120.1" y="36" font-size="10.0" fill="#000" stroke="#000" stroke-width="0.25" textLength="33" lengthAdjust="spacingAndGlyphs">0.98344</text>
<text x="156.2" y="36" font-size="10.0" fill="#000" stroke="#000" stroke-width="0.25" textLength="33" lengthAdjust="spacingAndGlyphs">0.98260</text>
<text x="192.3" y="36" font-size="10.0" fill="#000" stroke="#000" stroke-width="0.25" textLength="33" lengthAdjust="spacingAndGlyphs">0.98304</text>
<rect x="1642" y="36" width="2" height="1" fill="#000"/>
<text x="1646.7" y="40" font-size="10.0" fill="#000" stroke="#000" stroke-width="0.25" textLength="33" lengthAdjust="spacingAndGlyphs">0.99760</text>
<rect x="1642" y="69" width="2" height="1" fill="#000"/>
<text x="1646.7" y="73" font-size="10.0" fill="#000" stroke="#000" stroke-width="0.25" textLength="33" lengthAdjust="spacingAndGlyphs">0.99535</text>
<rect x="1642" y="102" width="2" height="1" fill="#000"/>
<text x="1646.7" y="106" font-size="10.0" fill="#000" stroke="#000" stroke-width="0.25" textLength="33" lengthAdjust="spacingAndGlyphs">0.99315</text>
<rect x="1642" y="135" width="2" height="1" fill="#000"/>
<text x="1646.7" y="139" font-size="10.0" fill="#000" stroke="#000" stroke-width="0.25" textLength="33" lengthAdjust="spacingAndGlyphs">0.99095</text>
<rect x="1642" y="168" width="2" height="1" fill="#000"/>
<text x="1646.7" y="172" font-size="10.0" fill="#000" stroke="#000" stroke-width="0.25" textLength="33" lengthAdjust="spacingAndGlyphs">0.98875</text>
<rect x="1642" y="201" width="2" height="1" fill="#000"/>
<text x="1646.7" y="205" font-size="10.0" fill="#000" stroke="#000" stroke-width="0.25" textLength="33" lengthAdjust="spacingAndGlyphs">0.98650</text>
<rect x="1642" y="234" width="2" height="1" fill="#000"/>
<text x="1646.7" y="238" font-size="10.0" fill="#000" stroke="#000" stroke-width="0.25" textLength="33" lengthAdjust="spacingAndGlyphs">0.98430</text>
<rect x="1642" y="267" width="2" height="1" fill="#000"/>
<text x="1646.7" y="271" font-size="10.0" fill="#000" stroke="#000" stroke-width="0.25" textLength="33" lengthAdjust="spacingAndGlyphs">0.98210</text>
<rect x="1642" y="300" width="2" height="1" fill="#000"/>
<text x="1646.7" y="304" font-size="10.0" fill="#000" stroke="#000" stroke-width="0.25" textLength="33" lengthAdjust="spacingAndGlyphs">0.97990</text>
<rect x="1642" y="333" width="2" height="1" fill="#000"/>
<text x="1646.7" y="337" font-size="10.0" fill="#000" stroke="#000" stroke-width="0.25" textLength="33" lengthAdjust="spacingAndGlyphs">0.97765</text>
<rect x="1642" y="366" width="2" height="1" fill="#000"/>
<text x="1646.7" y="370" font-size="10.0" fill="#000" stroke="#000" stroke-width="0.25" textLength="33" lengthAdjust="spacingAndGlyphs">0.97545</text>
<rect x="1642" y="399" width="2" height="1" fill="#000"/>
<text x="1646.7" y="403" font-size="10.0" fill="#000" stroke="#000" stroke-width="0.25" textLength="33" lengthAdjust="spacingAndGlyphs">0.97325</text>
<rect x="1642" y="432" width="2" height="1" fill="#000"/>
<text x="1646.7" y="436" font-size="10.0" fill="#000" stroke="#000" stroke-width="0.25" textLength="33" lengthAdjust="spacingAndGlyphs">0.97105</text>
<rect x="1642" y="465" width="2" height="1" fill="#000"/>
<text x="1646.7" y="469" font-size="10.0" fill="#000" stroke="#000" stroke-width="0.25" textLength="33" lengthAdjust="spacingAndGlyphs">0.96880</text>
<rect x="1642" y="498" width="2" height="1" fill="#000"/>
<text x="1646.7" y="502" font-size="10.0" fill="#000" stroke="#000" stroke-width="0.25" textLength="33" lengthAdjust="spacingAndGlyphs">0.96660</text>
<rect x="1642" y="531" width="2" height="1" fill="#000"/>
<text x="1646.7" y="535" font-size="10.0" fill="#000" stroke="#000" stroke-width="0.25" textLength="33" lengthAdjust="spacingAndGlyphs">0.96440</text>
<rect x="1642" y="564" width="2" height="1" fill="#000"/>
<text x="1646.7" y="568" font-size="10.0" fill="#000" stroke="#000" stroke-width="0.25" textLength="33" lengthAdjust="spacingAndGlyphs">0.96215</text>
<rect x="1642" y="597" width="2" height="1" fill="#000"/>
<text x="1646.7" y="601" font-size="10.0" fill="#000" stroke="#000" stroke-width="0.25" textLength="33" lengthAdjust="spacingAndGlyphs">0.95995</text>
<rect x="1643" y="248" width="41" height="11" fill="#000"/>
<text x="1646.7" y="257" font-size="10.0" fill="#fff" stroke="#fff" stroke-width="0.25" textLength="33" lengthAdjust="spacingAndGlyphs">0.98304</text>
<rect x="1643" y="152" width="41" height="11" fill="#ff0000"/>
<text x="1646.7" y="161" font-size="10.0" fill="#fff" stroke="#fff" stroke-width="0.25" textLength="33" lengthAdjust="spacingAndGlyphs">0.98939</text>
<rect x="1643" y="198" width="41" height="11" fill="#ff0000"/>
<text x="1646.7" y="207" font-size="10.0" fill="#fff" stroke="#fff" stroke-width="0.25" textLength="33" lengthAdjust="spacingAndGlyphs">0.98631</text>
<rect x="1643" y="267" width="41" height="11" fill="#ffa500"/>
<text x="1646.7" y="276" font-size="10.0" fill="#fff" stroke="#fff" stroke-width="0.25" textLength="33" lengthAdjust="spacingAndGlyphs">0.98169</text>
<rect x="1643" y="310" width="41" height="11" fill="#0000ff"/>
<text x="1646.7" y="319" font-size="10.0" fill="#fff" stroke="#fff" stroke-width="0.25" textLength="33" lengthAdjust="spacingAndGlyphs">0.97882</text>
<rect x="1643" y="352" width="41" height="11" fill="#0000ff"/>
<text x="1646.7" y="361" font-size="10.0" fill="#fff" stroke="#fff" stroke-width="0.25" textLength="33" lengthAdjust="spacingAndGlyphs">0.97600</text>
<rect x="4" y="602" width="1638" height="1" fill="#000"/>
<rect x="4" y="723" width="1638" height="1" fill="#000"/>
<rect x="4" y="602" width="1" height="122" fill="#000"/>
<rect x="1641" y="602" width="1" height="122" fill="#000"/>
<g clip-path="url(#cd)">
<rect x="4" y="696" width="3" height="1" fill="#00ff00"/>
<rect x="20" y="694" width="3" height="3" fill="#00ff00"/>
<rect x="36" y="693" width="3" height="4" fill="#00ff00"/>
<rect x="52" y="690" width="3" height="7" fill="#00ff00"/>
<rect x="68" y="684" width="3" height="13" fill="#00ff00"/>
<rect x="84" y="681" width="3" height="16" fill="#00ff00"/>
<rect x="100" y="681" width="3" height="16" fill="#00ff00"/>
<rect x="116" y="682" width="3" height="15" fill="#00ff00"/>
<rect x="132" y="684" width="3" height="13" fill="#00ff00"/>
<rect x="148" y="686" width="3" height="11" fill="#00ff00"/>
<rect x="164" y="688" width="3" height="9" fill="#00ff00"/>
<rect x="180" y="688" width="3" height="9" fill="#00ff00"/>
<rect x="196" y="690" width="3" height="7" fill="#00ff00"/>
<rect x="212" y="691" width="3" height="6" fill="#00ff00"/>
<rect x="228" y="692" width="3" height="5" fill="#00ff00"/>
<rect x="244" y="692" width="3" height="5" fill="#00ff00"/>
<rect x="260" y="690" width="3" height="7" fill="#00ff00"/>
<rect x="276" y="690" width="3" height="7" fill="#00ff00"/>
<rect x="292" y="691" width="3" height="6" fill="#00ff00"/>
<rect x="308" y="691" width="3" height="6" fill="#00ff00"/>
<rect x="324" y="686" width="3" height="11" fill="#00ff00"/>
<rect x="340" y="686" width="3" height="11" fill="#00ff00"/>
<rect x="356" y="672" width="3" height="25" fill="#00ff00"/>
<rect x="372" y="659" width="3" height="38" fill="#00ff00"/>
<rect x="388" y="649" width="3" height="48" fill="#00ff00"/>
<rect x="404" y="647" width="3" height="50" fill="#00ff00"/>
<rect x="420" y="646" width="3" height="51" fill="#00ff00"/>
<rect x="436" y="643" width="3" height="54" fill="#00ff00"/>
<rect x="452" y="640" width="3" height="57" fill="#00ff00"/>
<rect x="468" y="638" width="3" height="59" fill="#00ff00"/>
<rect x="484" y="635" width="3" height="62" fill="#00ff00"/>
<rect x="500" y="632" width="3" height="65" fill="#00ff00"/>
<rect x="516" y="631" width="3" height="66" fill="#00ff00"/>
<rect x="532" y="629" width="3" height="68" fill="#00ff00"/>
<rect x="548" y="630" width="3" height="67" fill="#00ff00"/>
<rect x="564" y="623" width="3" height="74" fill="#00ff00"/>
<rect x="580" y="616" width="3" height="81" fill="#00ff00"/>
<rect x="596" y="611" width="3" height="86" fill="#00ff00"/>
<rect x="612" y="609" width="3" height="88" fill="#00ff00"/>
<rect x="628" y="609" width="3" height="88" fill="#00ff00"/>
<rect x="644" y="613" width="3" height="84" fill="#00ff00"/>
<rect x="660" y="620" width="3" height="77" fill="#00ff00"/>
<rect x="676" y="622" width="3" height="75" fill="#00ff00"/>
<rect x="692" y="623" width="3" height="74" fill="#00ff00"/>
<rect x="708" y="624" width="3" height="73" fill="#00ff00"/>
<rect x="724" y="623" width="3" height="74" fill="#00ff00"/>
<rect x="740" y="627" width="3" height="70" fill="#00ff00"/>
<rect x="756" y="634" width="3" height="63" fill="#00ff00"/>
<rect x="772" y="654" width="3" height="43" fill="#00ff00"/>
<rect x="788" y="670" width="3" height="27" fill="#00ff00"/>
<rect x="804" y="681" width="3" height="16" fill="#00ff00"/>
<rect x="820" y="688" width="3" height="9" fill="#00ff00"/>
<rect x="836" y="688" width="3" height="9" fill="#00ff00"/>
<rect x="852" y="692" width="3" height="5" fill="#00ff00"/>
<rect x="868" y="696" width="3" height="1" fill="#00ff00"/>
<rect x="884" y="697" width="3" height="7" fill="#00ff00"/>
<rect x="900" y="697" width="3" height="14" fill="#00ff00"/>
<rect x="916" y="697" width="3" height="18" fill="#00ff00"/>
<rect x="932" y="697" width="3" height="21" fill="#00ff00"/>
<rect x="948" y="697" width="3" height="18" fill="#00ff00"/>
<rect x="964" y="697" width="3" height="12" fill="#00ff00"/>
<rect x="980" y="697" width="3" height="4" fill="#00ff00"/>
<rect x="996" y="695" width="3" height="2" fill="#00ff00"/>
<rect x="1012" y="692" width="3" height="5" fill="#00ff00"/>
<rect x="1028" y="686" width="3" height="11" fill="#00ff00"/>
<rect x="1044" y="682" width="3" height="15" fill="#00ff00"/>
<rect x="1060" y="673" width="3" height="24" fill="#00ff00"/>
<rect x="1076" y="666" width="3" height="31" fill="#00ff00"/>
<rect x="1092" y="661" width="3" height="36" fill="#00ff00"/>
<rect x="1108" y="661" width="3" height="36" fill="#00ff00"/>
<rect x="1124" y="662" width="3" height="35" fill="#00ff00"/>
<rect x="1140" y="665" width="3" height="32" fill="#00ff00"/>
<rect x="1156" y="676" width="3" height="21" fill="#00ff00"/>
<rect x="1172" y="686" width="3" height="11" fill="#00ff00"/>
<rect x="1188" y="695" width="3" height="2" fill="#00ff00"/>
<rect x="1204" y="697" width="3" height="5" fill="#00ff00"/>
<rect x="1220" y="697" width="3" height="6" fill="#00ff00"/>
<rect x="1236" y="697" width="3" height="4" fill="#00ff00"/>
<rect x="1252" y="697" width="3" height="4" fill="#00ff00"/>
<rect x="1268" y="697" width="3" height="4" fill="#00ff00"/>
<rect x="1284" y="697" width="3" height="5" fill="#00ff00"/>
<polyline points="-10.5,708.7 5.5,706.7 21.5,704.7 37.5,703.0 53.5,700.0 69.5,697.0 85.5,694.0 101.5,692.6 117.5,689.0 133.5,687.0 149.5,686.2 165.5,685.1 181.5,685.0 197.5,685.3 213.5,686.6 229.5,687.6 245.5,688.6 261.5,688.6 277.5,689.6 293.5,689.8 309.5,689.8 325.5,690.0 341.5,689.2 357.5,687.6 373.5,683.5 389.5,679.5 405.5,674.5 421.5,669.8 437.5,664.4 453.5,659.8 469.5,653.3 485.5,648.3 501.5,643.3 517.5,640.3 533.5,638.2 549.5,636.2 565.5,633.2 581.5,630.6 597.5,627.2 613.5,624.6 629.5,621.1 645.5,619.1 661.5,618.1 677.5,617.1 693.5,616.1 709.5,616.1 725.5,617.5 741.5,619.3 757.5,622.1 773.5,627.2 789.5,633.2 805.5,640.3 821.5,647.3 837.5,654.3 853.5,662.4 869.5,670.5 885.5,678.5 901.5,687.6 917.5,694.2 933.5,699.0 949.5,702.7 965.5,705.5 981.5,705.9 997.5,705.9 1013.5,705.9 1029.5,704.3 1045.5,701.4 1061.5,696.2 1077.5,691.6 1093.5,685.5 1109.5,680.5 1125.5,675.5 1141.5,672.1 1157.5,670.5 1173.5,670.0 1189.5,672.5 1205.5,675.5 1221.5,679.5 1237.5,683.1 1253.5,687.0 1269.5,692.0 1285.5,696.2" fill="none" stroke="#ff0000" stroke-width="2" stroke-linejoin="round"/>
</g>
<text x="9.2" y="615" font-size="10.0" fill="#000" stroke="#000" stroke-width="0.25" textLength="151" lengthAdjust="spacingAndGlyphs">MACD(12,26,9) -0.000267 0.000110</text>
<rect x="1642" y="604" width="1" height="1" fill="#000"/>
<text x="1644.7" y="613" font-size="10.0" fill="#000" stroke="#000" stroke-width="0.25" textLength="38" lengthAdjust="spacingAndGlyphs">0.006664</text>
<rect x="1642" y="697" width="1" height="1" fill="#000"/>
<text x="1644.7" y="701" font-size="10.0" fill="#000" stroke="#000" stroke-width="0.25" textLength="18" lengthAdjust="spacingAndGlyphs">0.00</text>
<rect x="1642" y="722" width="1" height="1" fill="#000"/>
<text x="1645" y="720" font-size="10.0" fill="#000" stroke="#000" stroke-width="0.25" textLength="41" lengthAdjust="spacingAndGlyphs">-0.001798</text>
<rect x="4" y="725" width="1638" height="1" fill="#000"/>
<rect x="4" y="830" width="1638" height="1" fill="#000"/>
<rect x="4" y="725" width="1" height="106" fill="#000"/>
<rect x="1641" y="725" width="1" height="106" fill="#000"/>
<g clip-path="url(#cr)">
<line x1="6" y1="747.5" x2="1641" y2="747.5" stroke="#000" stroke-width="1" stroke-dasharray="3 3"/>
<line x1="6" y1="778.5" x2="1641" y2="778.5" stroke="#000" stroke-width="1" stroke-dasharray="3 3"/>
<line x1="6" y1="814.5" x2="1641" y2="814.5" stroke="#000" stroke-width="1" stroke-dasharray="3 3"/>
<polyline points="-10.5,771.9 5.5,771.9 21.5,771.9 37.5,775.9 53.5,771.3 69.5,766.9 85.5,768.9 101.5,772.3 117.5,776.5 133.5,776.9 149.5,776.9 165.5,780.8 181.5,774.7 197.5,779.3 213.5,777.7 229.5,777.7 245.5,776.3 261.5,769.7 277.5,778.7 293.5,774.7 309.5,774.3 325.5,771.0 341.5,773.9 357.5,757.8 373.5,755.8 389.5,755.8 405.5,765.7 421.5,765.9 437.5,762.8 453.5,762.2 469.5,761.2 485.5,760.6 501.5,758.8 517.5,759.8 533.5,757.6 549.5,762.0 565.5,755.2 581.5,753.2 597.5,752.6 613.5,754.2 629.5,756.8 645.5,761.9 661.5,768.0 677.5,763.8 693.5,761.8 709.5,761.8 725.5,758.6 741.5,766.3 757.5,772.7 773.5,788.8 789.5,788.8 805.5,786.4 821.5,783.8 837.5,776.7 853.5,781.8 869.5,782.2 885.5,785.4 901.5,788.0 917.5,785.4 933.5,784.6 949.5,778.3 965.5,773.1 981.5,771.7 997.5,772.1 1013.5,772.7 1029.5,768.9 1045.5,768.5 1061.5,762.2 1077.5,761.8 1093.5,762.6 1109.5,769.5 1125.5,769.9 1141.5,773.7 1157.5,786.4 1173.5,787.8 1189.5,787.8 1205.5,786.4 1221.5,781.0 1237.5,776.9 1253.5,777.9 1269.5,779.5 1285.5,779.5" fill="none" stroke="#1e90ff" stroke-width="2" stroke-linejoin="round"/>
</g>
<text x="9.2" y="738" font-size="10.0" fill="#000" stroke="#000" stroke-width="0.25" textLength="68" lengthAdjust="spacingAndGlyphs">RSI(14) 48.2417</text>
<rect x="1642" y="727" width="1" height="1" fill="#000"/>
<text x="1645" y="736" font-size="10.0" fill="#000" stroke="#000" stroke-width="0.25" textLength="15" lengthAdjust="spacingAndGlyphs">100</text>
<text x="1644.2" y="751" font-size="10.0" fill="#000" stroke="#000" stroke-width="0.25" textLength="10" lengthAdjust="spacingAndGlyphs">80</text>
<text x="1644.2" y="782" font-size="10.0" fill="#000" stroke="#000" stroke-width="0.25" textLength="10" lengthAdjust="spacingAndGlyphs">50</text>
<text x="1644.2" y="818" font-size="10.0" fill="#000" stroke="#000" stroke-width="0.25" textLength="10" lengthAdjust="spacingAndGlyphs">15</text>
<text x="1644.7" y="827" font-size="10.0" fill="#000" stroke="#000" stroke-width="0.25" textLength="5" lengthAdjust="spacingAndGlyphs">0</text>
<rect x="1642" y="829" width="1" height="1" fill="#000"/>
<rect x="5" y="831" width="1" height="3" fill="#000"/>
<text x="4.2" y="843" font-size="10.0" fill="#000" stroke="#000" stroke-width="0.25" textLength="51.5" lengthAdjust="spacingAndGlyphs">16 Sep 2022</text>
<rect x="69" y="831" width="1" height="3" fill="#000"/>
<text x="68.2" y="843" font-size="10.0" fill="#000" stroke="#000" stroke-width="0.25" textLength="54.5" lengthAdjust="spacingAndGlyphs">19 Sep 04:00</text>
<rect x="133" y="831" width="1" height="3" fill="#000"/>
<text x="132.2" y="843" font-size="10.0" fill="#000" stroke="#000" stroke-width="0.25" textLength="54.5" lengthAdjust="spacingAndGlyphs">19 Sep 20:00</text>
<rect x="197" y="831" width="1" height="3" fill="#000"/>
<text x="196.2" y="843" font-size="10.0" fill="#000" stroke="#000" stroke-width="0.25" textLength="54.5" lengthAdjust="spacingAndGlyphs">20 Sep 12:00</text>
<rect x="261" y="831" width="1" height="3" fill="#000"/>
<text x="260.2" y="843" font-size="10.0" fill="#000" stroke="#000" stroke-width="0.25" textLength="54.5" lengthAdjust="spacingAndGlyphs">21 Sep 04:00</text>
<rect x="325" y="831" width="1" height="3" fill="#000"/>
<text x="324.2" y="843" font-size="10.0" fill="#000" stroke="#000" stroke-width="0.25" textLength="54.5" lengthAdjust="spacingAndGlyphs">21 Sep 20:00</text>
<rect x="389" y="831" width="1" height="3" fill="#000"/>
<text x="388.2" y="843" font-size="10.0" fill="#000" stroke="#000" stroke-width="0.25" textLength="54.5" lengthAdjust="spacingAndGlyphs">22 Sep 12:00</text>
<rect x="453" y="831" width="1" height="3" fill="#000"/>
<text x="452.2" y="843" font-size="10.0" fill="#000" stroke="#000" stroke-width="0.25" textLength="54.5" lengthAdjust="spacingAndGlyphs">23 Sep 04:00</text>
<rect x="517" y="831" width="1" height="3" fill="#000"/>
<text x="516.2" y="843" font-size="10.0" fill="#000" stroke="#000" stroke-width="0.25" textLength="54.5" lengthAdjust="spacingAndGlyphs">25 Sep 23:00</text>
<rect x="581" y="831" width="1" height="3" fill="#000"/>
<text x="580.2" y="843" font-size="10.0" fill="#000" stroke="#000" stroke-width="0.25" textLength="54.5" lengthAdjust="spacingAndGlyphs">26 Sep 12:00</text>
<rect x="645" y="831" width="1" height="3" fill="#000"/>
<text x="644.2" y="843" font-size="10.0" fill="#000" stroke="#000" stroke-width="0.25" textLength="54.5" lengthAdjust="spacingAndGlyphs">27 Sep 04:00</text>
<rect x="709" y="831" width="1" height="3" fill="#000"/>
<text x="708.2" y="843" font-size="10.0" fill="#000" stroke="#000" stroke-width="0.25" textLength="54.5" lengthAdjust="spacingAndGlyphs">27 Sep 20:00</text>
<rect x="773" y="831" width="1" height="3" fill="#000"/>
<text x="772.2" y="843" font-size="10.0" fill="#000" stroke="#000" stroke-width="0.25" textLength="54.5" lengthAdjust="spacingAndGlyphs">28 Sep 12:00</text>
<rect x="837" y="831" width="1" height="3" fill="#000"/>
<text x="836.2" y="843" font-size="10.0" fill="#000" stroke="#000" stroke-width="0.25" textLength="54.5" lengthAdjust="spacingAndGlyphs">29 Sep 04:00</text>
<rect x="901" y="831" width="1" height="3" fill="#000"/>
<text x="900.2" y="843" font-size="10.0" fill="#000" stroke="#000" stroke-width="0.25" textLength="54.5" lengthAdjust="spacingAndGlyphs">29 Sep 20:00</text>
<rect x="965" y="831" width="1" height="3" fill="#000"/>
<text x="964.2" y="843" font-size="10.0" fill="#000" stroke="#000" stroke-width="0.25" textLength="54.5" lengthAdjust="spacingAndGlyphs">30 Sep 12:00</text>
<rect x="1029" y="831" width="1" height="3" fill="#000"/>
<text x="1028.2" y="843" font-size="10.0" fill="#000" stroke="#000" stroke-width="0.25" textLength="48.5" lengthAdjust="spacingAndGlyphs">3 Oct 04:00</text>
<rect x="1093" y="831" width="1" height="3" fill="#000"/>
<text x="1092.2" y="843" font-size="10.0" fill="#000" stroke="#000" stroke-width="0.25" textLength="48.5" lengthAdjust="spacingAndGlyphs">3 Oct 20:00</text>
<rect x="1157" y="831" width="1" height="3" fill="#000"/>
<text x="1156.2" y="843" font-size="10.0" fill="#000" stroke="#000" stroke-width="0.25" textLength="48.5" lengthAdjust="spacingAndGlyphs">4 Oct 12:00</text>
<rect x="1221" y="831" width="1" height="3" fill="#000"/>
<text x="1220.2" y="843" font-size="10.0" fill="#000" stroke="#000" stroke-width="0.25" textLength="48.5" lengthAdjust="spacingAndGlyphs">5 Oct 04:00</text>
<rect x="1285" y="831" width="1" height="3" fill="#000"/>
<text x="1284.2" y="843" font-size="10.0" fill="#000" stroke="#000" stroke-width="0.25" textLength="48.5" lengthAdjust="spacingAndGlyphs">5 Oct 20:00</text>
</svg>
</body></html>
